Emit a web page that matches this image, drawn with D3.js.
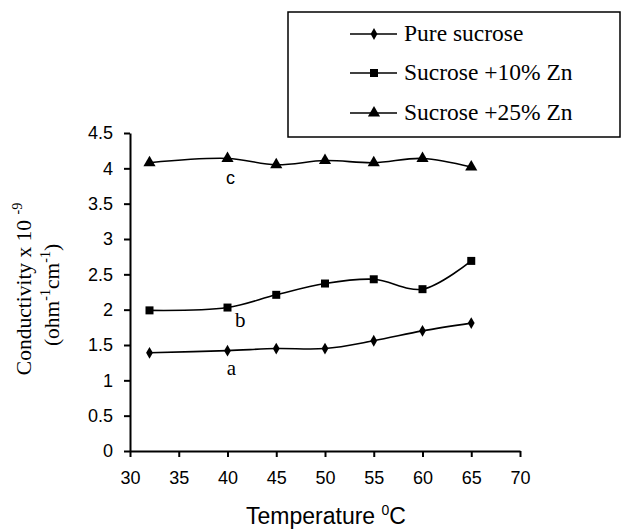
<!DOCTYPE html>
<html>
<head>
<meta charset="utf-8">
<script src="https://cdn.jsdelivr.net/npm/d3@7"></script>
<style>
  html, body { margin: 0; padding: 0; background: #fff; }
  svg { display: block; }
</style>
</head>
<body>
<svg id="chart" width="621" height="530"></svg>
<script>
// ---- data ----
const temperatures = [32, 40, 45, 50, 55, 60, 65];
const pureSucrose = [1.39, 1.42, 1.45, 1.45, 1.56, 1.70, 1.81];
const sucrose10Zn = [1.99, 2.03, 2.21, 2.37, 2.43, 2.29, 2.69];
const sucrose25Zn = [4.08, 4.14, 4.05, 4.11, 4.08, 4.14, 4.02];
const seriesNames = ["Pure sucrose", "Sucrose +10% Zn", "Sucrose +25% Zn"];
const xTicks = [30, 35, 40, 45, 50, 55, 60, 65, 70];
const yTicks = [0, 0.5, 1, 1.5, 2, 2.5, 3, 3.5, 4, 4.5];
const curveLabels = [
  { text: "a", x: 40.4, y: 1.08, serif: true },
  { text: "b", x: 41.3, y: 1.75, serif: true },
  { text: "c", x: 40.3, y: 3.78, serif: false }
];

const svg = d3.select("#chart");
const x = d3.scaleLinear().domain([30, 70]).range([130, 520]);
const y = d3.scaleLinear().domain([0, 4.5]).range([451, 133]);

const sans = "'Liberation Sans', Arial, sans-serif";
const serif = "'Liberation Serif', 'Times New Roman', serif";

// axes
const xAxis = svg.append("g").attr("transform", "translate(0,451)")
  .call(d3.axisBottom(x).tickValues(xTicks).tickSize(6).tickSizeOuter(0).tickPadding(14));
const yAxis = svg.append("g").attr("transform", "translate(130,0)")
  .call(d3.axisLeft(y).tickValues(yTicks).tickSize(6).tickSizeOuter(0).tickPadding(11)
    .tickFormat(d => String(d)));
[xAxis, yAxis].forEach(g => {
  g.selectAll("path.domain").attr("stroke", "#000").attr("stroke-width", 2);
  g.selectAll(".tick line").attr("stroke", "#000").attr("stroke-width", 2);
  g.selectAll(".tick text").attr("fill", "#000").style("font-family", sans).style("font-size", "18px");
});

// series
const series = [
  { name: seriesNames[0], values: pureSucrose, marker: d3.symbolDiamond, size: 40 },
  { name: seriesNames[1], values: sucrose10Zn, marker: d3.symbolSquare, size: 64 },
  { name: seriesNames[2], values: sucrose25Zn, marker: d3.symbolTriangle, size: 64 }
];

const line = d3.line()
  .x((d, i) => x(temperatures[i]))
  .y(d => y(d))
  .curve(d3.curveCatmullRom.alpha(0.5));

series.forEach(s => {
  svg.append("path")
    .attr("d", line(s.values))
    .attr("fill", "none")
    .attr("stroke", "#000")
    .attr("stroke-width", 1.6);
  svg.append("g").selectAll("path")
    .data(s.values)
    .join("path")
    .attr("transform", (d, i) => `translate(${x(temperatures[i])},${y(d)})`)
    .attr("d", d3.symbol().type(s.marker).size(s.size))
    .attr("fill", "#000");
});

// curve labels
curveLabels.forEach(l => {
  svg.append("text")
    .attr("x", x(l.x)).attr("y", y(l.y))
    .attr("text-anchor", "middle")
    .style("font-family", l.serif ? serif : sans)
    .style("font-size", l.serif ? "21px" : "18px")
    .attr("fill", "#000")
    .text(l.text);
});

// x axis title
const xt = svg.append("text")
  .attr("x", 326).attr("y", 524)
  .attr("text-anchor", "middle")
  .style("font-family", sans).style("font-size", "23px")
  .attr("fill", "#000");
xt.append("tspan").text("Temperature ");
xt.append("tspan").attr("dy", -9).style("font-size", "14px").text("0");
xt.append("tspan").attr("dy", 9).text("C");

// y axis title
const yt = svg.append("g").attr("transform", "translate(31,289) rotate(-90)");
const yt1 = yt.append("text").attr("x", 0).attr("y", 0)
  .attr("text-anchor", "middle")
  .style("font-family", serif).style("font-size", "21.5px").attr("fill", "#000");
yt1.append("tspan").text("Conductivity x 10 ");
yt1.append("tspan").attr("dy", -9).style("font-size", "14px").text("-9");
const yt2 = yt.append("text").attr("x", -6).attr("y", 28)
  .attr("text-anchor", "middle")
  .style("font-family", serif).style("font-size", "21.5px").attr("fill", "#000");
yt2.append("tspan").text("(ohm");
yt2.append("tspan").attr("dy", -9).style("font-size", "14px").text("-1");
yt2.append("tspan").attr("dy", 9).text("cm");
yt2.append("tspan").attr("dy", -9).style("font-size", "14px").text("-1");
yt2.append("tspan").attr("dy", 9).text(")");

// legend
const legend = svg.append("g");
legend.append("rect")
  .attr("x", 288).attr("y", 12).attr("width", 332).attr("height", 125)
  .attr("fill", "#fff").attr("stroke", "#000").attr("stroke-width", 1.5);
const rowY = [34, 73, 113];
series.forEach((s, i) => {
  const g = legend.append("g").attr("transform", `translate(0,${rowY[i]})`);
  g.append("line").attr("x1", 350).attr("x2", 397).attr("y1", 0).attr("y2", 0)
    .attr("stroke", "#000").attr("stroke-width", 1.6);
  g.append("path").attr("transform", "translate(374,0)")
    .attr("d", d3.symbol().type(s.marker).size(s.size)).attr("fill", "#000");
  g.append("text").attr("x", 404).attr("y", 7)
    .style("font-family", serif).style("font-size", "23.5px").attr("fill", "#000")
    .text(s.name);
});
</script>
</body>
</html>
